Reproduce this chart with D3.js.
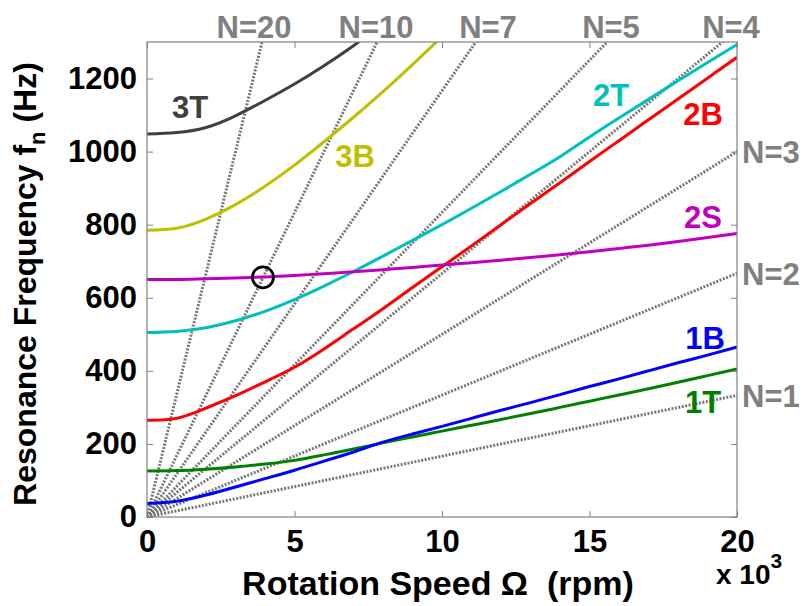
<!DOCTYPE html>
<html><head><meta charset="utf-8">
<script src="https://cdn.jsdelivr.net/npm/d3@7"></script>
<style>
body{margin:0;background:#fff}
text{font-family:"Liberation Sans",Arial,Helvetica,sans-serif;font-weight:bold}
</style>
</head><body>
<svg id="chart" width="804" height="606"></svg>
<script>
// Rotation speed (x 10^3 rpm)
const omega = [0,1,2,3,4,5,6,7,8,9,10,11,12,13,14,15,16,17,18,19,20];
// Resonance frequencies (Hz)
const mode1T = [126,127,131,137,145,155,170,186,203,219,235,251,267,283,300,317,334,351,369,387,405];
const mode1B = [37,43,60,82,105,128,153,178,205,227,248,270,292,313,335,357,378,400,422,443,465];
const mode2B = [265,270,298,332,370,410,460,515,570,628,685,742,800,858,915,973,1030,1087,1144,1201,1258];
const mode2S = [650,650,652,654,657,661,666,671,677,683,690,696,703,710,718,726,735,744,754,765,776];
const mode2T = [505,508,518,537,563,595,632,672,714,757,800,845,891,938,986,1040,1092,1143,1194,1244,1293];
const omega3 = [0,1,2,3,4,5,6,7,8,9,10];
const mode3B = [785,790,815,855,905,963,1027,1094,1164,1238,1315];
const mode3T = [1048,1052,1066,1098,1140,1185,1235,1290,1350,1415,1480];
// Engine-order lines: frequency (Hz) reached at 20 x 10^3 rpm
const orders = ["N=1","N=2","N=3","N=4","N=5","N=7","N=10","N=20"];
const orderEndHz = [333,667,1000,1333,1667,2333,3333,6667];
const xTicks = [0,5,10,15,20];
const yTicks = [0,200,400,600,800,1000,1200];
// Marked crossing
const marker = {omega:3.93, hz:656};

const svg = d3.select("#chart");
const L=147,R=737,T=42,B=517;
const x = d3.scaleLinear().domain([0,20]).range([L,R]);
const y = d3.scaleLinear().domain([0,1300]).range([B,T]);

svg.append("defs").append("clipPath").attr("id","clip")
  .append("rect").attr("x",L).attr("y",T).attr("width",R-L).attr("height",B-T);

const plot = svg.append("g").attr("clip-path","url(#clip)");

// engine-order dotted lines
orderEndHz.forEach((hz,i)=>{
  plot.append("line")
    .attr("x1",x(0)).attr("y1",y(0)).attr("x2",x(20)).attr("y2",y(hz))
    .attr("stroke","#777").attr("stroke-width",3)
    .attr("stroke-dasharray","2 1.5");
});

const line = d3.line().x(d=>x(d[0])).y(d=>y(d[1])).curve(d3.curveNatural);
const series = [
  {xs:omega, ys:mode1T, color:"#008000"},
  {xs:omega, ys:mode1B, color:"#0000ff"},
  {xs:omega, ys:mode2B, color:"#ff0000"},
  {xs:omega, ys:mode2T, color:"#00bfbf"},
  {xs:omega, ys:mode2S, color:"#bf00bf"},
  {xs:omega3, ys:mode3B, color:"#bfbf00"},
  {xs:omega3, ys:mode3T, color:"#404040"}
];
series.forEach(s=>{
  plot.append("path").datum(s.xs.map((v,i)=>[v,s.ys[i]]))
    .attr("d",line).attr("fill","none").attr("stroke",s.color).attr("stroke-width",3);
});

svg.append("circle").attr("cx",x(marker.omega)).attr("cy",y(marker.hz)).attr("r",10.5)
  .attr("fill","none").attr("stroke","#000").attr("stroke-width",2.8);

// axes
const fs = 31;
const ax = svg.append("g").attr("transform",`translate(0,${B})`)
  .call(d3.axisBottom(x).tickValues(xTicks).tickSizeInner(-6).tickSizeOuter(0).tickPadding(13).tickFormat(d3.format("d")));
const ay = svg.append("g").attr("transform",`translate(${L},0)`)
  .call(d3.axisLeft(y).tickValues(yTicks).tickSizeInner(-6).tickSizeOuter(0).tickPadding(10).tickFormat(d3.format("d")));
const at = svg.append("g").attr("transform",`translate(0,${T})`)
  .call(d3.axisTop(x).tickValues(xTicks).tickSizeInner(-6).tickSizeOuter(0).tickFormat(""));
const ar = svg.append("g").attr("transform",`translate(${R},0)`)
  .call(d3.axisRight(y).tickValues(yTicks).tickSizeInner(-6).tickSizeOuter(0).tickFormat(""));
[ax,ay,at,ar].forEach(g=>{
  g.select(".domain").remove();
  g.selectAll(".tick line").attr("stroke","#808080").attr("stroke-width",1);
  g.selectAll(".tick text").attr("font-size",fs).attr("fill","#000")
   .attr("font-family","'Liberation Sans',Arial,sans-serif").attr("font-weight","bold");
});
svg.append("rect").attr("x",L).attr("y",T).attr("width",R-L).attr("height",B-T)
  .attr("fill","none").attr("stroke","#808080").attr("stroke-width",1.2);

// axis titles
svg.append("text").attr("x",438).attr("y",595).attr("text-anchor","middle").attr("font-size",34)
  .attr("xml:space","preserve").text("Rotation Speed \u03A9  (rpm)");
const xe = svg.append("text").attr("x",716).attr("y",584).attr("font-size",28);
xe.append("tspan").text("x 10");
xe.append("tspan").attr("dy",-16).attr("font-size",21).text("3");

const yt = svg.append("text").attr("transform","translate(36,284) rotate(-90)")
  .attr("text-anchor","middle").attr("font-size",32);
yt.append("tspan").text("Resonance Frequency f");
yt.append("tspan").attr("dy",9).attr("font-size",22).text("n");
yt.append("tspan").attr("dy",-9).text(" (Hz)");

// engine-order labels
const gray="#808080";
const topLab = [["N=20",254],["N=10",376],["N=7",488],["N=5",611],["N=4",731]];
topLab.forEach(([t,cx])=>svg.append("text").attr("x",cx).attr("y",38).attr("text-anchor","middle")
  .attr("font-size",fs).attr("fill",gray).text(t));
const rightLab = [["N=3",1000],["N=2",667],["N=1",333]];
rightLab.forEach(([t,hz])=>svg.append("text").attr("x",742).attr("y",y(hz)+11.5)
  .attr("font-size",fs).attr("fill",gray).text(t));

// mode labels
const modeLab = [["3T",190,106,"#404040"],["3B",355,155,"#bfbf00"],["2T",611,94,"#00bfbf"],
  ["2B",703,113,"#ff0000"],["2S",703,216,"#bf00bf"],["1B",705,337,"#0000ff"],["1T",703,401,"#008000"]];
modeLab.forEach(([t,cx,cy,c])=>svg.append("text").attr("x",cx).attr("y",cy+11.5)
  .attr("text-anchor","middle").attr("font-size",fs).attr("fill",c).text(t));
</script>
</body></html>
